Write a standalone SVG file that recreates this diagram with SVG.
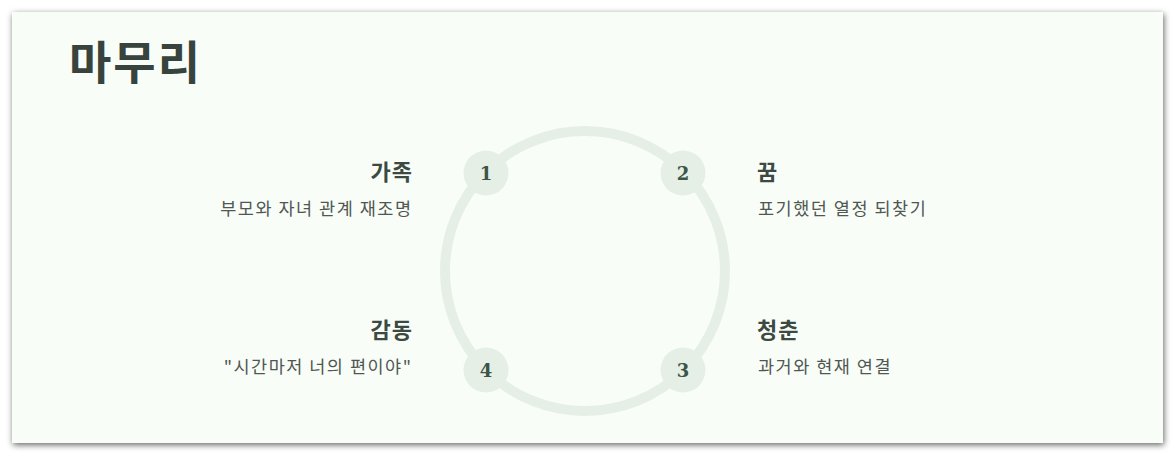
<svg xmlns="http://www.w3.org/2000/svg" width="1176" height="457" viewBox="0 0 1176 457">
<defs>
<filter id="sh" x="-5%" y="-10%" width="110%" height="120%">
<feDropShadow dx="1" dy="2" stdDeviation="3" flood-color="#000" flood-opacity="0.6"/>
</filter>
<style>
.t{font-family:"Noto Sans CJK KR","Noto Sans",sans-serif;}
.title{font-size:46px;font-weight:700;fill:#37433c;letter-spacing:2px;}
.h{font-size:22px;font-weight:700;fill:#3c4a42;letter-spacing:1px;}
.s{font-size:17.5px;fill:#4f5752;letter-spacing:1.5px;}
.badge{fill:#e5efe5;}
.num{font-family:"DejaVu Serif","Liberation Serif",serif;font-size:18px;font-weight:700;fill:#3d5546;text-anchor:middle;}
.r{text-anchor:end;}
</style>
</defs>
<rect width="1176" height="457" fill="#ffffff"/>
<rect x="12" y="12" width="1151" height="431" fill="#f9fdf8" filter="url(#sh)"/>
<text class="t title" x="69" y="79">마무리</text>
<g id="connectors">
<circle cx="585" cy="271" r="140" fill="none" stroke="#e5efe5" stroke-width="10"/>
</g>
<g id="n1">
<circle class="badge" cx="486" cy="173" r="22.5"/>
<text class="num" x="486" y="180">1</text>
<text class="t h r" x="413" y="180">가족</text>
<text class="t s r" x="412.5" y="215">부모와 자녀 관계 재조명</text>
</g>
<g id="n2">
<circle class="badge" cx="683" cy="173" r="22.5"/>
<text class="num" x="683" y="180">2</text>
<text class="t h" x="757" y="180">꿈</text>
<text class="t s" x="758" y="215">포기했던 열정 되찾기</text>
</g>
<g id="n3">
<circle class="badge" cx="683" cy="370" r="22.5"/>
<text class="num" x="683" y="377">3</text>
<text class="t h" x="757" y="338">청춘</text>
<text class="t s" x="758" y="373">과거와 현재 연결</text>
</g>
<g id="n4">
<circle class="badge" cx="486" cy="370" r="22.5"/>
<text class="num" x="486" y="377">4</text>
<text class="t h r" x="413" y="338">감동</text>
<text class="t s r" x="412.5" y="373">"시간마저 너의 편이야"</text>
</g>
</svg>
